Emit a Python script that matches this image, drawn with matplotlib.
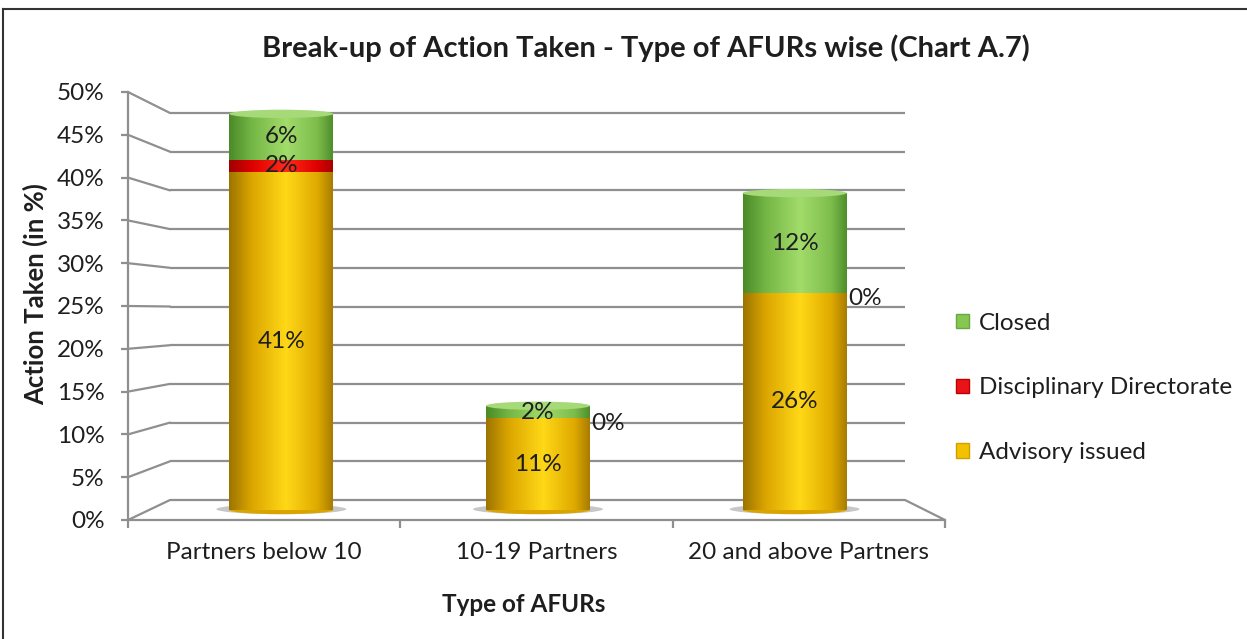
import numpy as np
import matplotlib.pyplot as plt
from matplotlib.colors import LinearSegmentedColormap
from matplotlib.patches import Ellipse, ConnectionPatch, Patch
from matplotlib.lines import Line2D

plt.rcParams['font.family'] = ['Lato', 'DejaVu Sans']

# *
# Data
# *
categories   = ['Partners below 10', '10-19 Partners', '20 and above Partners']
advisory     = [40.5, 11.0, 26.0]
disciplinary = [1.5, 0.0, 0.0]
closed       = [5.5, 1.5, 12.0]
y_ticks      = [0, 5, 10, 15, 20, 25, 30, 35, 40, 45, 50]
y_labels     = ['{}%'.format(v) for v in y_ticks]

W, H = 1247, 639
FS = 17.5


def rect(left, top, right, bottom):
    return [left / W, 1 - bottom / H, (right - left) / W, (bottom - top) / H]


def pct(v):
    # excel style rounding (half up)
    return '{}%'.format(int(np.floor(v + 0.5)))


grid_col = '#8f8f8f'
txt_col  = '#1e1e1e'

fig = plt.figure(figsize=(W / 100, H / 100), dpi=100)

# *
# back wall (gridlines)
# *
ax_back = fig.add_axes(rect(170, 113, 905, 500))
ax_back.set_xlim(-0.5, 2.5)
ax_back.set_ylim(0, 50)
ax_back.hlines(y_ticks, -0.5, 2.5, color=grid_col, lw=1.6, clip_on=False)
ax_back.axis('off')

# *
# front axes (tick labels, floor edge)
# *
ax_front = fig.add_axes(rect(128, 92, 945, 520))
ax_front.patch.set_visible(False)
ax_front.set_xlim(-0.5, 2.5)
ax_front.set_ylim(0, 50)
for s in ['top', 'right']:
    ax_front.spines[s].set_visible(False)
for s in ['left', 'bottom']:
    ax_front.spines[s].set_color(grid_col)
    ax_front.spines[s].set_linewidth(1.6)
ax_front.set_yticks(y_ticks)
ax_front.set_yticklabels(y_labels)
ax_front.set_xticks([0, 1, 2])
ax_front.set_xticklabels(categories)
ax_front.set_xticks([-0.5, 0.5, 1.5, 2.5], minor=True)
ax_front.tick_params(axis='y', length=5, width=1.6, color=grid_col, pad=12,
                     labelsize=FS, labelcolor=txt_col)
ax_front.tick_params(axis='x', which='major', length=0, pad=16,
                     labelsize=FS, labelcolor=txt_col)
ax_front.tick_params(axis='x', which='minor', length=6, width=1.6, color=grid_col)

# connectors between front axis and back wall
for v in y_ticks:
    con = ConnectionPatch(xyA=(-0.5, v), coordsA=ax_front.transData,
                          xyB=(-0.5, v), coordsB=ax_back.transData,
                          color=grid_col, lw=1.6)
    fig.add_artist(con)
con = ConnectionPatch(xyA=(2.5, 0), coordsA=ax_back.transData,
                      xyB=(2.5, 0), coordsB=ax_front.transData,
                      color=grid_col, lw=1.6)
fig.add_artist(con)

# *
# bars (cylinders)
# *
ax_bar = fig.add_axes(rect(153, 93, 923, 510))
ax_bar.patch.set_visible(False)

yellow_cm = LinearSegmentedColormap.from_list('y', [(0, '#9c7400'), (0.22, '#dca600'), (0.55, '#ffd817'), (0.85, '#e0aa00'), (1, '#a87c00')])
red_cm    = LinearSegmentedColormap.from_list('r', [(0, '#a00000'), (0.22, '#dd0000'), (0.55, '#ff2a1a'), (0.85, '#e00000'), (1, '#a80000')])
green_cm  = LinearSegmentedColormap.from_list('g', [(0, '#4a8a28'), (0.22, '#74b646'), (0.55, '#a2dc6a'), (0.85, '#7dbd4c'), (1, '#4f8f2c')])

series = [
    ('Advisory issued', advisory, yellow_cm, '#f2be00', '#e9b400'),
    ('Disciplinary Directorate', disciplinary, red_cm, '#ee1111', '#ff4a3a'),
    ('Closed', closed, green_cm, '#84c452', '#a6d978'),
]

bw = 0.405
grad = np.linspace(0, 1, 256).reshape(1, -1)
x = np.arange(len(categories))
bottoms = np.zeros(len(categories))
cap_cols = ['#e9b400'] * len(categories)

# shadow + rounded bottom
for i in x:
    ax_bar.add_patch(Ellipse((i, 0.1), bw * 1.25, 1.2, facecolor='#9a9a9a', edgecolor='none',
                             alpha=0.55, zorder=1, clip_on=False))
    ax_bar.add_patch(Ellipse((i, 0), bw, 1.0, facecolor='#d9a400', edgecolor='none',
                             zorder=1.5, clip_on=False))

for name, vals, cm, base, cap in series:
    for i, v in enumerate(vals):
        if v > 0:
            patch = ax_bar.bar(i, v, bottom=bottoms[i], width=bw, color=base, zorder=2)[0]
            im = ax_bar.imshow(grad, cmap=cm, aspect='auto', zorder=3,
                               extent=(i - bw / 2, i + bw / 2, bottoms[i], bottoms[i] + v))
            im.set_clip_path(patch)
            ax_bar.text(i, bottoms[i] + v / 2, pct(v), ha='center', va='center',
                        fontsize=FS, color=txt_col, zorder=6)
            cap_cols[i] = cap
        else:
            ax_bar.annotate(pct(v), xy=(i + bw / 2, bottoms[i]), xytext=(1, -4),
                            textcoords='offset points', ha='left', va='center',
                            fontsize=FS, color=txt_col, zorder=6)
    bottoms += np.array(vals)

for i in x:
    ax_bar.add_patch(Ellipse((i, bottoms[i]), bw, 1.0, facecolor=cap_cols[i],
                             edgecolor='none', zorder=4, clip_on=False))

ax_bar.set_xlim(-0.5, 2.5)
ax_bar.set_ylim(0, 50)
ax_bar.axis('off')

# *
# legend
# *
handles = [Patch(facecolor='#86c653', edgecolor='#6aa83e', label='Closed'),
           Patch(facecolor='#e8141a', edgecolor='#c00000', label='Disciplinary Directorate'),
           Patch(facecolor='#f2c200', edgecolor='#d0a000', label='Advisory issued')]
fig.legend(handles=handles, loc='center left', bbox_to_anchor=(934 / W, 1 - 388 / H),
           frameon=False, fontsize=FS, handlelength=0.55, handleheight=0.55,
           handletextpad=0.4, labelspacing=1.8, labelcolor=txt_col)

# *
# titles
# *
fig.text(646 / W, 1 - 48 / H, 'Break-up of Action Taken - Type of AFURs wise (Chart A.7)',
         ha='center', va='center', fontsize=21, fontweight='bold', color=txt_col)
fig.text(35 / W, 1 - 294 / H, 'Action Taken (in %)', rotation=90, ha='center', va='center',
         fontsize=18.5, fontweight='bold', color=txt_col)
fig.text(524 / W, 1 - 604 / H, 'Type of AFURs', ha='center', va='center',
         fontsize=FS, fontweight='bold', color=txt_col)

# border
fig.add_artist(Line2D([3 / W, 3 / W], [0, 1 - 9 / H], color='#333333', lw=1.5))
fig.add_artist(Line2D([3 / W, 1], [1 - 9 / H, 1 - 9 / H], color='#333333', lw=1.5))

fig.savefig('out.png', dpi=100)
